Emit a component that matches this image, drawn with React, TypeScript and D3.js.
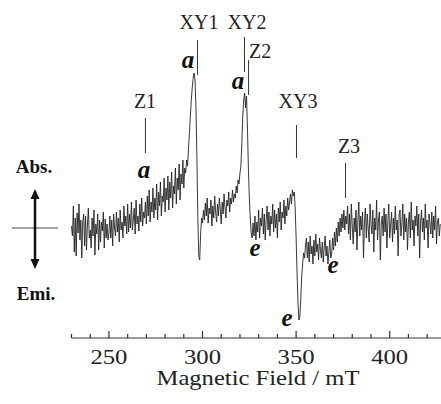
import React from "react";
import * as d3 from "d3";

// ---- data (magnetic field in mT, signal in arbitrary units; 0.5 mT sampling) ----
const fieldStep = 0.5;
const segStarts = [230, 250, 270, 291, 300.5, 318, 327.5, 349, 355.5, 369, 377];
const segA = [2, -8, 22, -24, 10, -28, 15, -5, 24, -12, 8, -30, 5, 14, -18, 12, -22, 3, 20, -10, -2, -20, 10, -8, 18, -27, 4, -6, 14, -22, 8, -14, 6, -3, 16, -20, 9, -10, 4, -12];
const segB = [-5, 12, -10, 8, -18, 14, 0, -8, 16, -4, 10, -14, 18, -2, 6, -10, 22, 2, 12, -6, 24, -4, 14, 0, 26, -2, 8, 20, -6, 28, 4, 12, -3, 24, 6, 30, 2, 16, 10, 26];
const segC = [4, 32, 12, 38, 6, 26, 16, 40, 10, 30, 18, 44, 8, 36, 22, 46, 12, 32, 26, 50, 16, 40, 28, 52, 18, 46, 30, 56, 20, 42, 34, 60, 24, 50, 38, 64, 28, 54, 44, 68, 40, 60];
const segD = [55, 68, 62, 80, 95, 112, 128, 140, 150, 155, 148, 120, 70, 10, -28, -32, -5, 10, 5];
const segE = [18, 8, 25, 12, 30, 5, 20, 14, 28, 2, 22, 10, 32, 16, 6, 24, 12, 30, 18, 4, 26, 14, 34, 20, 10, 28, 22, 36, 16, 30, 24, 38, 26, 34, 30];
const segF = [42, 35, 48, 44, 55, 62, 85, 112, 128, 135, 120, 132, 100, 60, 30, 10, -5, -10, 5];
const segG = [-8, 12, -12, 6, -4, 18, -10, 10, 2, 20, -6, 14, -12, 8, 22, -2, 16, -8, 12, 4, 24, -4, 18, 0, 14, -10, 20, 6, 26, -2, 16, 10, 28, 4, 22, 12, 30, 18, 26, 34, 24, 38, 32];
const segH = [36, 20, -10, -45, -75, -92, -88, -70, -48, -36, -25, -30, -18];
const segI = [-10, -30, -14, -34, -8, -26, -18, -36, -12, -28, -6, -24, -16, -32, -10, -22, -30, -14, -34, -20, -8, -28, -18, -36, -24, -12, -30];
const segJ = [-26, -10, -22, -4, -18, 0, -14, 6, -8, 10, -4, 14, 0, 18, -2, 12];
const segK = [4, 22, -6, 14, -12, 24, 2, -16, 10, -4, 18, -22, 8, 26, -8, 12, -2, 16, -30, 6, 20, -10, 14, 0, -14, 24, 4, -6, 18, -24, 10, -2, 28, -12, 8, 16, -32, 4, 12, -8, 20, -4, 14, -20, 6, 24, -10, 2, 16, -14, 10, -6, 22, -2, 8, -28, 12, 18, -8, 4, 24, -12, 14, -4, 10, -22, 6, 16, -10, 26, -2, 8, -18, 12, 2, 22, -8, 14, -30, 6, 18, -4, 10, -12, 24, 0, 8, -20, 14, 4, -6, 16, -10, 12, -2, 22, -16, 6, 10, -8, 4];
const segments = [segA, segB, segC, segD, segE, segF, segG, segH, segI, segJ, segK];

const majorTicks = [250, 300, 350, 400];
const minorTicks = [230, 240, 260, 270, 280, 290, 310, 320, 330, 340, 360, 370, 380, 390, 410, 420];

const markerNames = ["Z1", "XY1", "XY2", "Z2", "XY3", "Z3"];
const markerFields = [269.5, 297.3, 322.4, 324.6, 350.2, 376.4];

const W = 441;
const H = 404;

// layout for annotation marks (pixels)
const markerLayout = [
  { y1: 118, y2: 153, lx: 145, ly: 108, anchor: "middle" },
  { y1: 40, y2: 75, lx: 199, ly: 29, anchor: "middle" },
  { y1: 37, y2: 72, lx: 247, ly: 29, anchor: "middle" },
  { y1: 60, y2: 95, lx: 249, ly: 58, anchor: "start" },
  { y1: 125, y2: 158, lx: 298, ly: 108, anchor: "middle" },
  { y1: 163, y2: 198, lx: 349, ly: 153, anchor: "middle" },
];
const letterLabels = [
  { t: "a", x: 188, y: 68 },
  { t: "a", x: 238, y: 89 },
  { t: "a", x: 144, y: 178 },
  { t: "e", x: 255, y: 256 },
  { t: "e", x: 333, y: 273 },
  { t: "e", x: 287, y: 326 },
];

const serif = "'Liberation Serif', Tinos, 'Noto Serif', 'DejaVu Serif Condensed', serif";

export default function App() {
  const x = d3.scaleLinear().domain([230, 427.4]).range([71.5, 441]);
  const y = d3.scaleLinear().domain([-100, 160]).range([328, 68]);
  const axisY = 338;

  const points: [number, number][] = [];
  segments.forEach((seg, si) => {
    seg.forEach((v, i) => points.push([segStarts[si] + i * fieldStep, v]));
  });
  const line = d3
    .line<[number, number]>()
    .x((d) => x(d[0]))
    .y((d) => y(d[1]));

  const ts = { fontFamily: serif };

  return (
    <svg
      width={W}
      height={H}
      style={{ position: "fixed", left: 0, top: 0, background: "#fff", fontFamily: serif }}
    >
      <rect width={W} height={H} fill="#fff" />
      {/* trace */}
      <path d={line(points) || ""} fill="none" stroke="#222" strokeWidth={0.9} strokeLinejoin="round" />

      {/* axis */}
      <line x1={x(230)} x2={W} y1={axisY} y2={axisY} stroke="#333" strokeWidth={1.2} />
      {minorTicks.map((t) => (
        <line key={"m" + t} x1={x(t)} x2={x(t)} y1={axisY} y2={axisY - 4} stroke="#333" strokeWidth={1.2} />
      ))}
      {majorTicks.map((t) => (
        <g key={"M" + t}>
          <line x1={x(t)} x2={x(t)} y1={axisY} y2={axisY - 7} stroke="#333" strokeWidth={1.2} />
          <text x={x(t)} y={364} fontSize={20} textAnchor="middle" fill="#222" style={ts} textLength={37} lengthAdjust="spacingAndGlyphs">
            {t}
          </text>
        </g>
      ))}
      <text x={258} y={385} fontSize={21} textAnchor="middle" fill="#222" style={ts} textLength={203} lengthAdjust="spacingAndGlyphs">
        Magnetic Field / mT
      </text>

      {/* markers */}
      {markerNames.map((n, i) => {
        const L = markerLayout[i];
        const mx = x(markerFields[i]);
        return (
          <g key={n}>
            <line x1={mx} x2={mx} y1={L.y1} y2={L.y2} stroke="#333" strokeWidth={1} />
            <text x={L.lx} y={L.ly} fontSize={20} textAnchor={L.anchor as any} fill="#222" style={ts}>
              {n}
            </text>
          </g>
        );
      })}
      {letterLabels.map((l, i) => (
        <text key={i} x={l.x} y={l.y} fontSize={25} fontStyle="italic" fontWeight="bold" textAnchor="middle" fill="#111" style={ts}>
          {l.t}
        </text>
      ))}

      {/* Abs / Emi indicator */}
      <text x={34} y={173} fontSize={19} fontWeight="bold" textAnchor="middle" fill="#111" style={ts}>
        Abs.
      </text>
      <text x={36} y={300} fontSize={19} fontWeight="bold" textAnchor="middle" fill="#111" style={ts}>
        Emi.
      </text>
      <line x1={12} x2={58} y1={228} y2={228} stroke="#444" strokeWidth={1} />
      <line x1={35} x2={35} y1={196} y2={262} stroke="#111" strokeWidth={2.5} />
      <path d="M35,189 L30.5,199 L39.5,199 Z" fill="#111" />
      <path d="M35,269 L30.5,259 L39.5,259 Z" fill="#111" />
    </svg>
  );
}
